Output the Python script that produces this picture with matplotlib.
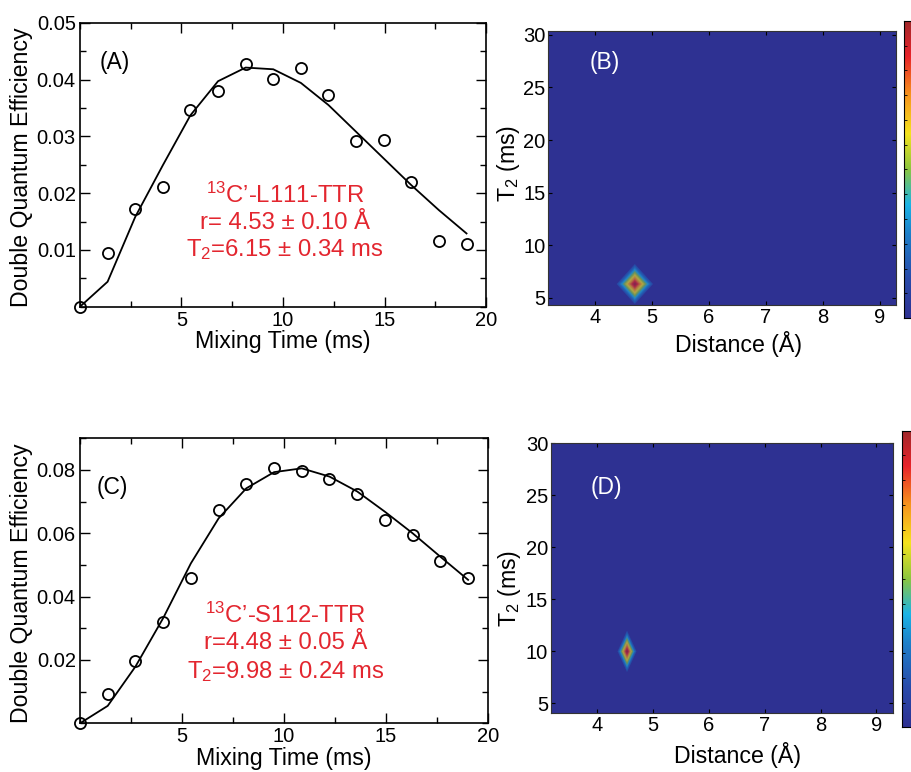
import numpy as np
import matplotlib
matplotlib.use('Agg')
import matplotlib.pyplot as plt
import matplotlib.tri as mtri
from matplotlib.colors import LinearSegmentedColormap, Normalize
from matplotlib.ticker import MultipleLocator

plt.rcParams['font.family'] = ['Liberation Sans', 'DejaVu Sans']
plt.rcParams['mathtext.fontset'] = 'custom'
plt.rcParams['mathtext.rm'] = 'Liberation Sans'
plt.rcParams['mathtext.it'] = 'Liberation Sans:italic'

# mixing times (ms) and double quantum efficiencies
mix_time = [0, 1.36, 2.72, 4.08, 5.44, 6.8, 8.16, 9.52, 10.88, 12.24, 13.6, 14.96, 16.32, 17.68, 19.04]
dq_L111 = [0, 0.0094, 0.0172, 0.0211, 0.0346, 0.0380, 0.0428, 0.0401, 0.0420, 0.0373, 0.0292, 0.0293, 0.0220, 0.0116, 0.0110]
fit_L111 = [0, 0.0044, 0.0158, 0.0249, 0.0337, 0.0397, 0.0421, 0.0418, 0.0394, 0.0355, 0.0308, 0.0261, 0.0214, 0.0170, 0.0129]
dq_S112 = [0, 0.0092, 0.0197, 0.0321, 0.0458, 0.0674, 0.0755, 0.0805, 0.0797, 0.0772, 0.0724, 0.0642, 0.0595, 0.0511, 0.0458]
fit_S112 = [0, 0.0055, 0.0179, 0.0332, 0.0505, 0.0647, 0.0742, 0.0793, 0.0805, 0.0779, 0.0732, 0.0668, 0.0600, 0.0526, 0.0453]

# chi-square map peaks: (distance A, T2 ms) and half widths
peak_B = (4.70, 6.3)
half_B = (0.32, 1.9)
peak_D = (4.54, 10.0)
half_D = (0.17, 2.0)

red = '#E3262F'
jet_like = LinearSegmentedColormap.from_list('jet_like', [
    (0.0, '#2E3192'), (0.13, '#2A4BAA'), (0.28, '#1F7FC9'), (0.38, '#1CB4E6'),
    (0.5, '#8DC63F'), (0.62, '#F5E31E'), (0.75, '#F7941D'), (0.88, '#E8232A'),
    (1.0, '#A0282B')])

fig = plt.figure(figsize=(9.11, 7.72), dpi=100)


def dq_panel(rect, y, fit, ymax, ymaj, tag, tag_xy, lines, lines_y):
    ax = fig.add_axes(rect)
    ax.plot(mix_time, fit, color='black', lw=1.3)
    ax.plot(mix_time, y, 'o', mfc='none', mec='black', ms=8, mew=1.3, clip_on=False)
    ax.set_xlim(0, 20)
    ax.set_ylim(0, ymax)
    ax.xaxis.set_minor_locator(MultipleLocator(2.5))
    ax.yaxis.set_minor_locator(MultipleLocator(ymaj / 2))
    ax.set_xticks([5, 10, 15, 20])
    yt = np.arange(1, round(ymax / ymaj) + 1) * ymaj
    ax.set_yticks(yt)
    ax.set_yticklabels(['%g' % v for v in yt])
    ax.tick_params(which='both', direction='in', top=True, right=True, labelsize=14.5, width=1.0)
    ax.tick_params(which='major', length=7)
    ax.tick_params(which='minor', length=4)
    ax.tick_params(axis='y', pad=3)
    ax.tick_params(axis='x', pad=3)
    for s in ax.spines.values():
        s.set_linewidth(1.2)
    ax.set_xlabel('Mixing Time (ms)', fontsize=16.7, va='center')
    ax.xaxis.set_label_coords(0.5, -0.124)
    ax.set_ylabel('Double Quantum Efficiency', fontsize=16.7, va='center')
    ax.yaxis.set_label_coords(-0.143, 0.49)
    ax.text(tag_xy[0], tag_xy[1], tag, transform=ax.transAxes, fontsize=16.5, ha='center', va='center')
    for t, yy in zip(lines, lines_y):
        ax.text(0.505, yy, t, transform=ax.transAxes, fontsize=17.2, color=red, ha='center', va='center')
    return ax


dq_panel([0.0878, 0.6027, 0.4457, 0.3679], dq_L111, fit_L111, 0.05, 0.01, '(A)', (0.086, 0.861),
         [r'$\mathregular{^{13}}$C’-L111-TTR', 'r= 4.53 ± 0.10 Å', r'T$_\mathregular{2}$=6.15 ± 0.34 ms'],
         [0.394, 0.296, 0.200])
dq_panel([0.0878, 0.0631, 0.4475, 0.3692], dq_S112, fit_S112, 0.09, 0.02, '(C)', (0.080, 0.828),
         [r'$\mathregular{^{13}}$C’-S112-TTR', 'r=4.48 ± 0.05 Å', r'T$_\mathregular{2}$=9.98 ± 0.24 ms'],
         [0.380, 0.281, 0.181])


def map_panel(rect, peak, half, xlim, ylim, tag, tag_xy, xl_y, yl_xy, cb_rect):
    ax = fig.add_axes(rect)
    ax.set_facecolor(jet_like(0.0))
    cx, cy = peak
    hx, hy = half
    px = [cx, cx + hx, cx, cx - hx, cx]
    py = [cy, cy, cy + hy, cy, cy - hy]
    pz = [1.0, 0, 0, 0, 0]
    tri = mtri.Triangulation(px, py, [[0, 1, 2], [0, 2, 3], [0, 3, 4], [0, 4, 1]])
    ax.tricontourf(tri, pz, levels=np.linspace(0, 1, 65), cmap=jet_like,
                   norm=Normalize(vmin=-0.15, vmax=1.0), antialiased=True)
    ax.set_xlim(*xlim)
    ax.set_ylim(*ylim)
    ax.set_xticks([4, 5, 6, 7, 8, 9])
    ax.set_yticks([5, 10, 15, 20, 25, 30])
    ax.tick_params(direction='in', top=True, right=True, labelsize=14.5, length=3, width=0.8)
    ax.tick_params(axis='y', pad=2)
    ax.tick_params(axis='x', pad=2)
    for s in ax.spines.values():
        s.set_linewidth(0.8)
        s.set_color('#333333')
    ax.set_xlabel('Distance (Å)', fontsize=16.7, va='center')
    ax.xaxis.set_label_coords(0.546, xl_y)
    ax.set_ylabel(r'T$_\mathregular{2}$ (ms)', fontsize=16.7, va='center')
    ax.yaxis.set_label_coords(*yl_xy)
    ax.text(tag_xy[0], tag_xy[1], tag, transform=ax.transAxes, fontsize=16.5, color='white',
            ha='center', va='center')
    cax = fig.add_axes(cb_rect)
    grad = np.linspace(0, 1, 256).reshape(-1, 1)
    cax.imshow(grad, aspect='auto', cmap=jet_like, origin='lower', extent=[0, 1, 0, 1])
    cax.set_xticks([])
    cax.set_yticks(np.linspace(0, 1, 13)[1:-1])
    cax.set_yticklabels([])
    cax.tick_params(direction='in', length=2, width=0.6)
    for s in cax.spines.values():
        s.set_linewidth(0.8)
    return ax


map_panel([0.6019, 0.6049, 0.3817, 0.3553], peak_B, half_B, (3.18, 9.29), (4.3, 30.4), '(B)',
          (0.163, 0.885), -0.142, (-0.115, 0.518), [0.9923, 0.588, 0.03, 0.385])
map_panel([0.6048, 0.0760, 0.3757, 0.3497], peak_D, half_D, (3.18, 9.30), (4.04, 30.0), '(D)',
          (0.163, 0.837), -0.155, (-0.122, 0.464), [0.9898, 0.0579, 0.03, 0.3842])

fig.savefig('out.png', dpi=100)
